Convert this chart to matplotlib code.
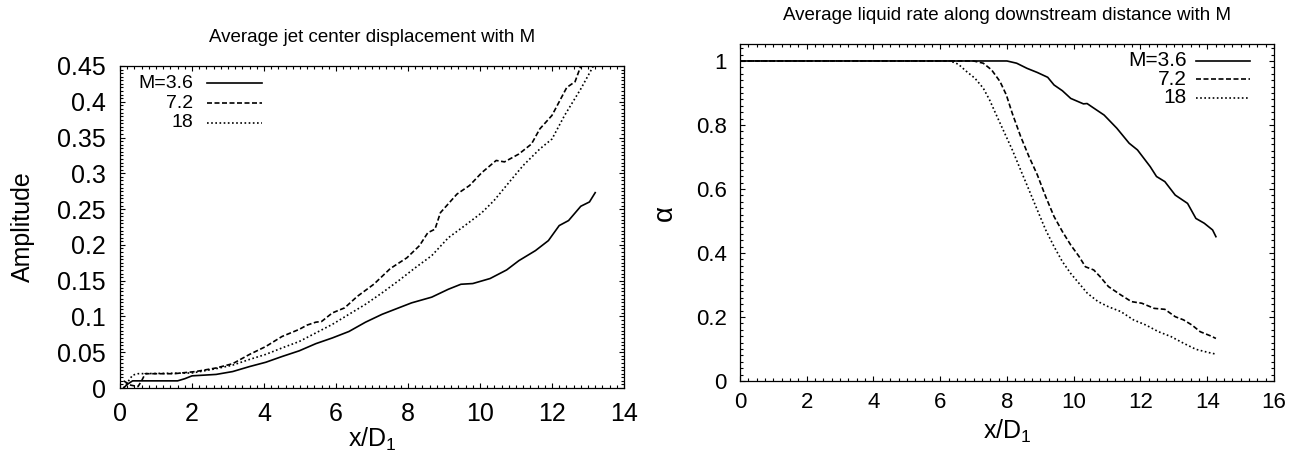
import matplotlib
matplotlib.use("Agg")
import matplotlib.pyplot as plt
from matplotlib.ticker import MultipleLocator, FormatStrFormatter

plt.rcParams['font.family'] = ['Liberation Sans', 'DejaVu Sans']
plt.rcParams['mathtext.fontset'] = 'custom'
plt.rcParams['mathtext.rm'] = 'Liberation Sans'

# left panel: jet center displacement
amp_x_36 = [0.1, 0.2, 0.35, 1.0, 1.6, 1.8, 2.0, 2.67, 3.13, 3.6, 4.05, 4.5, 4.98, 5.44, 5.9,
            6.36, 6.82, 7.28, 7.74, 8.1, 8.66, 9.12, 9.47, 9.8, 10.28, 10.74, 11.08, 11.54,
            11.9, 12.2, 12.46, 12.8, 13.04, 13.2]
amp_y_36 = [0.0, 0.005, 0.01, 0.01, 0.01, 0.013, 0.017, 0.019, 0.023, 0.030, 0.036, 0.044,
            0.052, 0.062, 0.070, 0.079, 0.092, 0.103, 0.112, 0.119, 0.127, 0.138, 0.145,
            0.146, 0.153, 0.165, 0.178, 0.192, 0.206, 0.227, 0.234, 0.254, 0.26, 0.273]

amp_x_72 = [0.1, 0.3, 0.5, 0.6, 0.7, 1.5, 2.1, 2.67, 3.13, 3.6, 4.05, 4.5, 4.98, 5.2, 5.44,
            5.6, 5.9, 6.24, 6.59, 7.05, 7.51, 7.97, 8.32, 8.55, 8.75, 8.9, 9.36, 9.71,
            10.05, 10.45, 10.68, 11.08, 11.43, 11.66, 12.0, 12.41, 12.64, 12.8]
amp_y_72 = [0.01, 0.004, 0.002, 0.01, 0.02, 0.02, 0.023, 0.028, 0.034, 0.047, 0.058, 0.072,
            0.082, 0.088, 0.092, 0.093, 0.105, 0.112, 0.128, 0.145, 0.167, 0.182, 0.199,
            0.217, 0.222, 0.245, 0.271, 0.283, 0.301, 0.318, 0.316, 0.327, 0.341, 0.362,
            0.381, 0.42, 0.428, 0.45]

amp_x_18 = [0.1, 0.35, 0.5, 2.0, 2.67, 3.13, 3.6, 4.05, 4.5, 4.98, 5.44, 5.9, 6.36, 6.82,
            7.28, 7.74, 8.2, 8.66, 9.12, 9.58, 10.05, 10.39, 10.85, 11.2, 11.66, 12.0,
            12.35, 12.8, 13.15]
amp_y_18 = [0.0, 0.018, 0.02, 0.021, 0.027, 0.032, 0.040, 0.047, 0.056, 0.065, 0.077, 0.089,
            0.103, 0.117, 0.133, 0.150, 0.168, 0.185, 0.210, 0.227, 0.245, 0.262, 0.29,
            0.311, 0.334, 0.348, 0.381, 0.418, 0.45]

# right panel: liquid rate alpha
al_x_36 = [0, 8.0, 8.29, 8.6, 8.91, 9.22, 9.41, 9.66, 9.91, 10.29, 10.4, 10.54, 10.91, 11.29,
           11.66, 11.91, 12.29, 12.48, 12.73, 13.04, 13.41, 13.66, 13.91, 14.16, 14.26]
al_y_36 = [1.0, 1.0, 0.993, 0.977, 0.964, 0.949, 0.925, 0.907, 0.883, 0.866, 0.867, 0.857,
           0.831, 0.79, 0.743, 0.722, 0.67, 0.639, 0.623, 0.581, 0.555, 0.508, 0.493,
           0.472, 0.451]

al_x_72 = [0, 7.0, 7.29, 7.54, 7.79, 7.98, 8.16, 8.41, 8.66, 8.91, 9.16, 9.41, 9.66, 9.91,
           10.16, 10.35, 10.6, 10.79, 11.04, 11.41, 11.73, 12.04, 12.41, 12.73, 13.04,
           13.29, 13.54, 13.79, 14.1, 14.26]
al_y_72 = [1.0, 1.0, 0.993, 0.972, 0.936, 0.894, 0.836, 0.764, 0.701, 0.644, 0.576, 0.514,
           0.467, 0.425, 0.389, 0.357, 0.347, 0.326, 0.295, 0.269, 0.248, 0.243, 0.227,
           0.224, 0.201, 0.191, 0.175, 0.154, 0.141, 0.133]

al_x_18 = [0, 6.3, 6.54, 6.79, 7.04, 7.29, 7.48, 7.66, 7.91, 8.16, 8.41, 8.66, 8.91, 9.16,
           9.41, 9.66, 9.91, 10.16, 10.41, 10.73, 11.04, 11.41, 11.79, 12.16, 12.54, 12.91,
           13.29, 13.66, 14.04, 14.26]
al_y_18 = [1.0, 1.0, 0.99, 0.967, 0.946, 0.915, 0.878, 0.836, 0.779, 0.722, 0.659, 0.597,
           0.534, 0.472, 0.42, 0.373, 0.336, 0.305, 0.274, 0.248, 0.232, 0.217, 0.191,
           0.175, 0.154, 0.139, 0.118, 0.099, 0.089, 0.084]

labels = ['M=3.6', '7.2', '18']
styles = ['-', (0, (3, 1.5)), (0, (1, 1.5))]
xlab = r'x/D$_{\mathregular{1}}$'

fig = plt.figure(figsize=(13, 4.58), dpi=100)
ax1 = fig.add_axes([0.0923, 0.1528, 0.3877, 0.7031])
ax2 = fig.add_axes([0.5692, 0.1681, 0.4108, 0.7358])


def style_axes(ax, fs, xmaj, xmin, ymaj, ymin, xpad, ypad):
    ax.xaxis.set_major_locator(MultipleLocator(xmaj))
    ax.xaxis.set_minor_locator(MultipleLocator(xmin))
    ax.yaxis.set_major_locator(MultipleLocator(ymaj))
    ax.yaxis.set_minor_locator(MultipleLocator(ymin))
    ax.yaxis.set_major_formatter(FormatStrFormatter('%g'))
    ax.tick_params(which='both', direction='in', top=True, right=True, width=0.8)
    ax.tick_params(which='major', length=3.8, labelsize=fs)
    ax.tick_params(axis='x', which='major', pad=xpad)
    ax.tick_params(axis='y', which='major', pad=ypad)
    ax.tick_params(which='minor', length=2)
    for s in ax.spines.values():
        s.set_linewidth(0.9)


def legend(ax, tx, lx0, lx1, ys, fs):
    for lab, ls, yy in zip(labels, styles, ys):
        ax.text(tx, yy, lab, transform=ax.transAxes, ha='right', va='center', fontsize=fs)
        ax.plot([lx0, lx1], [yy, yy], transform=ax.transAxes, color='black',
                linestyle=ls, lw=1.2)


# left panel
for xs, ys, ls in zip([amp_x_36, amp_x_72, amp_x_18], [amp_y_36, amp_y_72, amp_y_18], styles):
    ax1.plot(xs, ys, color='black', linestyle=ls, lw=1.2)
ax1.set_xlim(0, 14)
ax1.set_ylim(0, 0.45)
style_axes(ax1, 18, 2, 0.2, 0.05, 0.005, 10, 10)
legend(ax1, 0.145, 0.173, 0.282, [0.947, 0.885, 0.823], 14)
ax1.set_xlabel(xlab, fontsize=18)
ax1.xaxis.set_label_coords(0.5, -0.16)
ax1.xaxis.label.set_va('center')
ax1.set_ylabel('Amplitude', fontsize=18)
ax1.yaxis.set_label_coords(-0.192, 0.5)
ax1.yaxis.label.set_va('center')
fig.text(372 / 1300, 1 - 37 / 458, 'Average jet center displacement with M',
         ha='center', va='center', fontsize=13.5)

# right panel
for xs, ys, ls in zip([al_x_36, al_x_72, al_x_18], [al_y_36, al_y_72, al_y_18], styles):
    ax2.plot(xs, ys, color='black', linestyle=ls, lw=1.2)
ax2.set_xlim(0, 16)
ax2.set_ylim(0, 1.053)
style_axes(ax2, 16, 2, 0.25, 0.2, 0.02, 8, 9.5)
legend(ax2, 0.837, 0.854, 0.955, [0.950, 0.896, 0.840], 15)
ax2.set_xlabel(xlab, fontsize=18)
ax2.xaxis.set_label_coords(0.5, -0.15)
ax2.xaxis.label.set_va('center')
ax2.set_ylabel('α', fontsize=20, rotation=90)
ax2.yaxis.set_label_coords(-0.14, 0.5)
ax2.yaxis.label.set_va('center')
fig.text(1007 / 1300, 1 - 15 / 458, 'Average liquid rate along downstream distance with M',
         ha='center', va='center', fontsize=13.5)

fig.savefig('out.png', dpi=100)
